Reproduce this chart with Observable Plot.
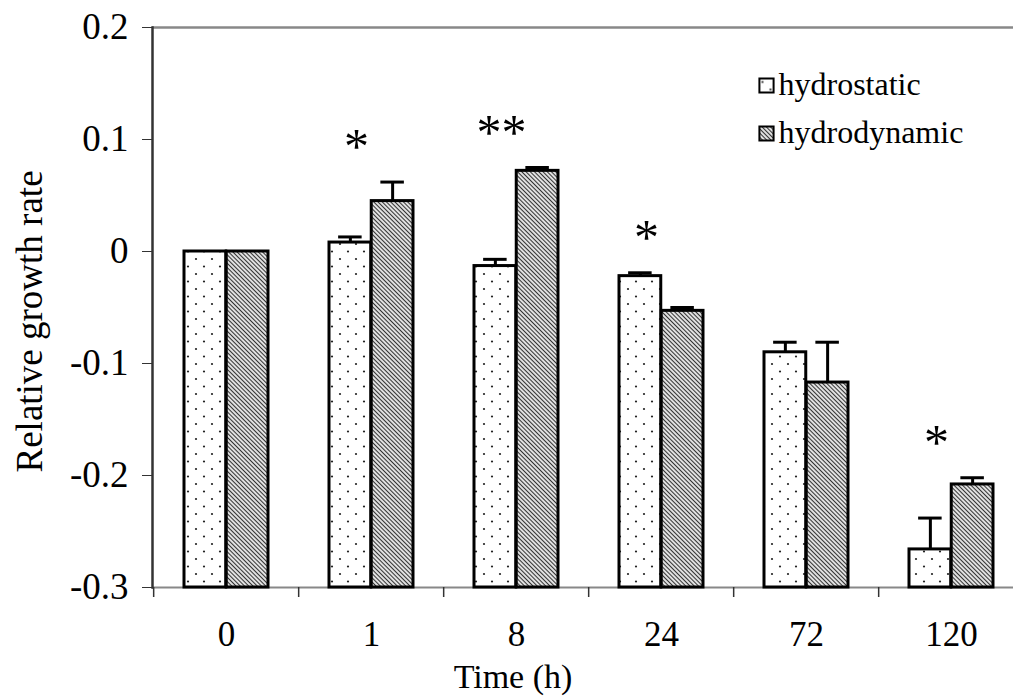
<!DOCTYPE html>
<html><head><meta charset="utf-8">
<script src="https://cdn.jsdelivr.net/npm/d3@7"></script>
<script src="https://cdn.jsdelivr.net/npm/@observablehq/plot@0.6"></script>
<style>
html,body{margin:0;padding:0;background:#fff;overflow:hidden;}
#chart{position:relative;width:1013px;height:696px;}
</style></head><body>
<svg width="0" height="0" style="position:absolute">
<defs>
<pattern id="dots" patternUnits="userSpaceOnUse" width="16" height="15">
<rect width="16" height="15" fill="#fff"/>
<circle cx="4" cy="4" r="1.1" fill="#222"/>
<circle cx="12" cy="11.5" r="1.1" fill="#222"/>
</pattern>
<pattern id="hatch" patternUnits="userSpaceOnUse" width="3" height="3" patternTransform="rotate(45)">
<rect width="3" height="3" fill="#fff"/>
<line x1="0" y1="1.5" x2="3" y2="1.5" stroke="#333" stroke-width="1.3"/>
</pattern>
</defs></svg>
<div id="chart"></div>
<script>
const times = ["0", "1", "8", "24", "72", "120"];
const seriesNames = ["hydrostatic", "hydrodynamic"];
const hydrostatic = [0, 0.008, -0.013, -0.022, -0.090, -0.266];
const hydrostaticErr = [0, 0.005, 0.006, 0.003, 0.009, 0.028];
const hydrodynamic = [0, 0.045, 0.072, -0.053, -0.117, -0.208];
const hydrodynamicErr = [0, 0.017, 0.003, 0.003, 0.036, 0.006];
const significance = ["", "*", "**", "*", "", "*"];
const yTicks = [-0.3, -0.2, -0.1, 0, 0.1, 0.2];

const yMin = -0.3, yMax = 0.2;
const xRange = [152, 1026];
const padInner = 0.42;
const step = (xRange[1] - xRange[0]) / times.length;
const bw = step * (1 - padInner);
const half = bw / 2;
const capW = 24;
const FONT = "'Liberation Serif', 'Times New Roman', serif";

const rows = times.flatMap((t, i) => [
  {time: t, series: "hydrostatic", value: hydrostatic[i], err: hydrostaticErr[i]},
  {time: t, series: "hydrodynamic", value: hydrodynamic[i], err: hydrodynamicErr[i]}
]);
const stat = rows.filter(d => d.series === "hydrostatic");
const dyn = rows.filter(d => d.series === "hydrodynamic");
const sig = times.map((t, i) => ({
  time: t, label: significance[i],
  top: Math.max(hydrostatic[i] + hydrostaticErr[i], hydrodynamic[i] + hydrodynamicErr[i])
})).filter(d => d.label);

const plot = Plot.plot({
  width: 1013,
  height: 696,
  marginLeft: 152,
  marginRight: 0,
  marginTop: 27,
  marginBottom: 109,
  style: {fontFamily: FONT, background: "#fff", color: "#000"},
  x: {domain: times, range: xRange, paddingInner: padInner, paddingOuter: padInner / 2},
  y: {domain: [yMin, yMax]},
  marks: [
    Plot.ruleY([yMax], {stroke: "#888", strokeWidth: 2.5}),
    Plot.ruleY([yMin], {stroke: "#888", strokeWidth: 2}),
    Plot.barY(stat, {x: "time", y1: yMin, y2: "value", insetRight: half, fill: "url(#dots)", stroke: "#000", strokeWidth: 3}),
    Plot.barY(dyn, {x: "time", y1: yMin, y2: "value", insetLeft: half, fill: "url(#hatch)", stroke: "#000", strokeWidth: 3}),
    Plot.ruleX(stat.filter(d => d.err > 0), {x: "time", dx: -half / 2, y1: "value", y2: d => d.value + d.err, stroke: "#000", strokeWidth: 3}),
    Plot.ruleX(dyn.filter(d => d.err > 0), {x: "time", dx: half / 2, y1: "value", y2: d => d.value + d.err, stroke: "#000", strokeWidth: 3}),
    Plot.tickY(stat.filter(d => d.err > 0), {x: "time", y: d => d.value + d.err, insetLeft: half / 2 - capW / 2, insetRight: bw - half / 2 - capW / 2, stroke: "#000", strokeWidth: 3}),
    Plot.tickY(dyn.filter(d => d.err > 0), {x: "time", y: d => d.value + d.err, insetLeft: half + half / 2 - capW / 2, insetRight: half / 2 - capW / 2, stroke: "#000", strokeWidth: 3}),
    Plot.text(sig, {x: "time", y: "top", text: "label", dx: -15, dy: -35, fontSize: 50, lineAnchor: "middle"}),
    Plot.frame({anchor: "left", stroke: "#333", strokeWidth: 2.5}),
    Plot.axisY({ticks: yTicks, tickSize: 10, tickPadding: 14, tickFormat: d => d === 0 ? "0" : d.toFixed(1), fontSize: 37, label: null, stroke: "#333"}),
    Plot.axisX({tickSize: 0, tickPadding: 34, fontSize: 35, label: null}),
    Plot.ruleX(times, {x: d => d, dx: -step / 2, y1: yMin, y2: yMin, insetBottom: -10, stroke: "#333", strokeWidth: 1.5}),
    Plot.text(["Time (h)"], {frameAnchor: "bottom", dx: -70, dy: 90, fontSize: 34, lineAnchor: "middle"}),
    Plot.text(["Relative growth rate"], {frameAnchor: "left", rotate: -90, dx: -122, dy: 165, fontSize: 37, lineAnchor: "middle"}),
    // legend
    Plot.dot([seriesNames[0]], {frameAnchor: "top-left", dx: 614, dy: 58, symbol: "square", r: 8, fill: "url(#dots)", stroke: "#000", strokeWidth: 2}),
    Plot.dot([seriesNames[1]], {frameAnchor: "top-left", dx: 614, dy: 106, symbol: "square", r: 8, fill: "url(#hatch)", stroke: "#000", strokeWidth: 2}),
    Plot.text([seriesNames[0]], {frameAnchor: "top-left", dx: 626, dy: 57, textAnchor: "start", fontSize: 32, lineAnchor: "middle"}),
    Plot.text([seriesNames[1]], {frameAnchor: "top-left", dx: 626, dy: 105, textAnchor: "start", fontSize: 32, lineAnchor: "middle"})
  ]
});
document.getElementById("chart").appendChild(plot);
</script>
</body></html>
